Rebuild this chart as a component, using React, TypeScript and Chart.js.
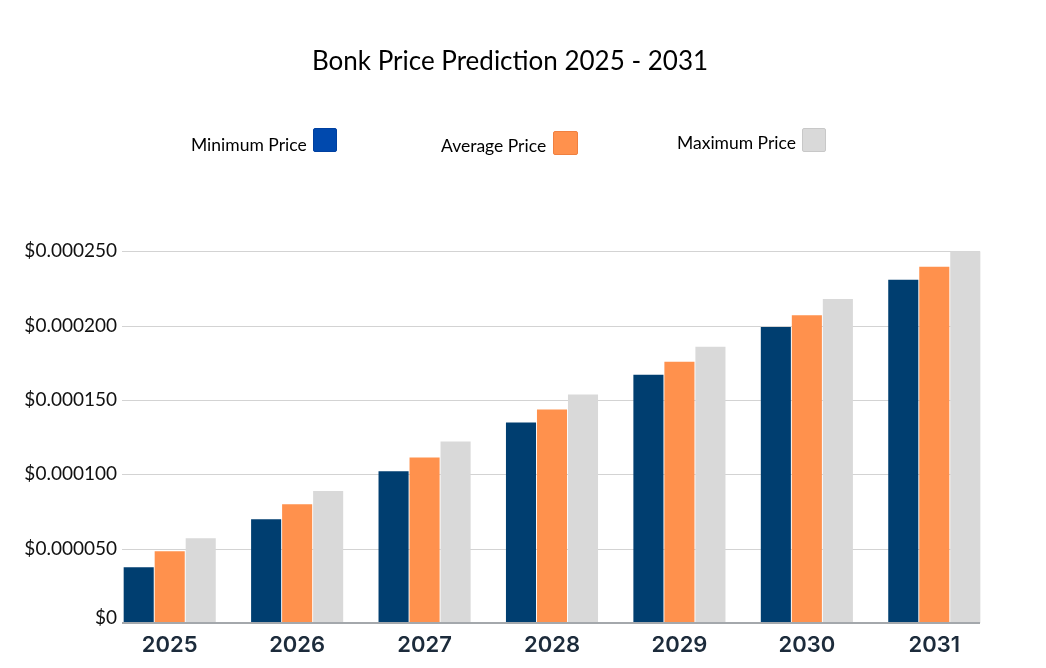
import React, { useEffect, useRef } from "react";
import { Chart, registerables } from "chart.js";

Chart.register(...registerables);

const categories = ["2025", "2026", "2027", "2028", "2029", "2030", "2031"];
const minPrice = [0.0000375, 0.0000698, 0.000102, 0.0001348, 0.000167, 0.000199, 0.0002308];
const avgPrice = [0.0000482, 0.0000798, 0.0001113, 0.0001435, 0.0001757, 0.000207, 0.0002395];
const maxPrice = [0.000057, 0.0000887, 0.000122, 0.0001537, 0.0001858, 0.0002178, 0.00025];
const seriesNames = ["Minimum Price", "Average Price", "Maximum Price"];
const yTicks = [0, 0.00005, 0.0001, 0.00015, 0.0002, 0.00025];

const COLORS = ["#003E70", "#FF914D", "#D9D9D9"];

const formatY = (v: number) => (v === 0 ? "$0" : "$" + v.toFixed(6));

const gridPlugin = {
  id: "customGrid",
  beforeDatasetsDraw(chart: any) {
    const { ctx, chartArea, scales } = chart;
    const y = scales.y;
    const left = chartArea.left + 16;
    const right = chartArea.right - 18;
    ctx.save();
    ctx.strokeStyle = "#D3D3D3";
    ctx.lineWidth = 1;
    yTicks.forEach((v) => {
      if (v === 0) return;
      const py = Math.round(y.getPixelForValue(v)) + 0.5;
      ctx.beginPath();
      ctx.moveTo(left, py);
      ctx.lineTo(right, py);
      ctx.stroke();
    });
    ctx.restore();
  },
  afterDatasetsDraw(chart: any) {
    const { ctx, chartArea, scales } = chart;
    const y = scales.y;
    const left = chartArea.left + 16;
    const right = chartArea.right - 18;
    ctx.save();
    ctx.strokeStyle = "#A4A8AC";
    ctx.lineWidth = 2;
    const py = Math.round(y.getPixelForValue(0));
    ctx.beginPath();
    ctx.moveTo(left, py);
    ctx.lineTo(right, py);
    ctx.stroke();
    // y tick labels, right-aligned just left of the drawn grid
    ctx.fillStyle = "#111111";
    ctx.font = "19px Lato";
    ctx.textAlign = "right";
    ctx.textBaseline = "middle";
    yTicks.forEach((v) => {
      const ty = y.getPixelForValue(v);
      ctx.fillText(formatY(v), chartArea.left + 11, v === 0 ? ty - 5 : ty);
    });
    ctx.restore();
  },
};

const legendItems = [
  { text: seriesNames[0], tx: 183, ty: 126, bx: 305, by: 120, bw: 24, color: "#0049AE", border: "#0040A0" },
  { text: seriesNames[1], tx: 433, ty: 127, bx: 545, by: 123, bw: 25, color: "#FF914D", border: "#F08040" },
  { text: seriesNames[2], tx: 669, ty: 124, bx: 794, by: 120, bw: 24, color: "#D9D9D9", border: "#C8C8C8" },
];

export default function App() {
  const ref = useRef<HTMLCanvasElement | null>(null);

  useEffect(() => {
    if (!ref.current) return;
    const data = [minPrice, avgPrice, maxPrice];
    const chart = new Chart(ref.current, {
      type: "bar",
      data: {
        labels: categories,
        datasets: seriesNames.map((name, i) => ({
          label: name,
          data: data[i],
          backgroundColor: COLORS[i],
          borderWidth: 0,
          categoryPercentage: 0.73,
          barPercentage: 0.97,
        })),
      },
      plugins: [gridPlugin],
      options: {
        animation: false,
        responsive: true,
        maintainAspectRatio: false,
        layout: { padding: { left: 14, right: 40, top: 0, bottom: 0 } },
        plugins: {
          legend: { display: false },
          tooltip: { enabled: false },
          title: {
            display: true,
            text: "Bonk Price Prediction 2025 - 2031",
            color: "#000000",
            font: { family: "Lato", size: 26, weight: "normal" },
            padding: { top: 38, bottom: 174 },
          },
        },
        scales: {
          x: {
            grid: { display: false, drawTicks: false },
            border: { display: false },
            ticks: {
              color: "#1C2B3B",
              font: { family: "Inter", size: 22, weight: "600" },
              padding: 9,
            },
            afterFit(scale: any) {
              scale.height = 37;
            },
          },
          y: {
            min: 0,
            max: 0.00025,
            grid: { display: false, drawTicks: false },
            border: { display: false },
            afterBuildTicks(scale: any) {
              scale.ticks = yTicks.map((v) => ({ value: v }));
            },
            ticks: {
              display: false,
              callback: (v: any) => formatY(Number(v)),
            },
            afterFit(scale: any) {
              scale.width = 84;
            },
          },
        },
      },
    });
    return () => chart.destroy();
  }, []);

  return (
    <div style={{ position: "relative", width: 1030, height: 652, fontFamily: "Lato" }}>
      <canvas ref={ref} />
      {legendItems.map((it) => (
        <React.Fragment key={it.text}>
          <span
            style={{
              position: "absolute",
              left: it.tx,
              top: it.ty,
              fontSize: 17.5,
              lineHeight: "22px",
              color: "#000",
              whiteSpace: "nowrap",
            }}
          >
            {it.text}
          </span>
          <span
            style={{
              position: "absolute",
              left: it.bx,
              top: it.by,
              width: it.bw,
              height: 24,
              boxSizing: "border-box",
              background: it.color,
              border: `1px solid ${it.border}`,
              borderRadius: 2,
            }}
          />
        </React.Fragment>
      ))}
    </div>
  );
}
